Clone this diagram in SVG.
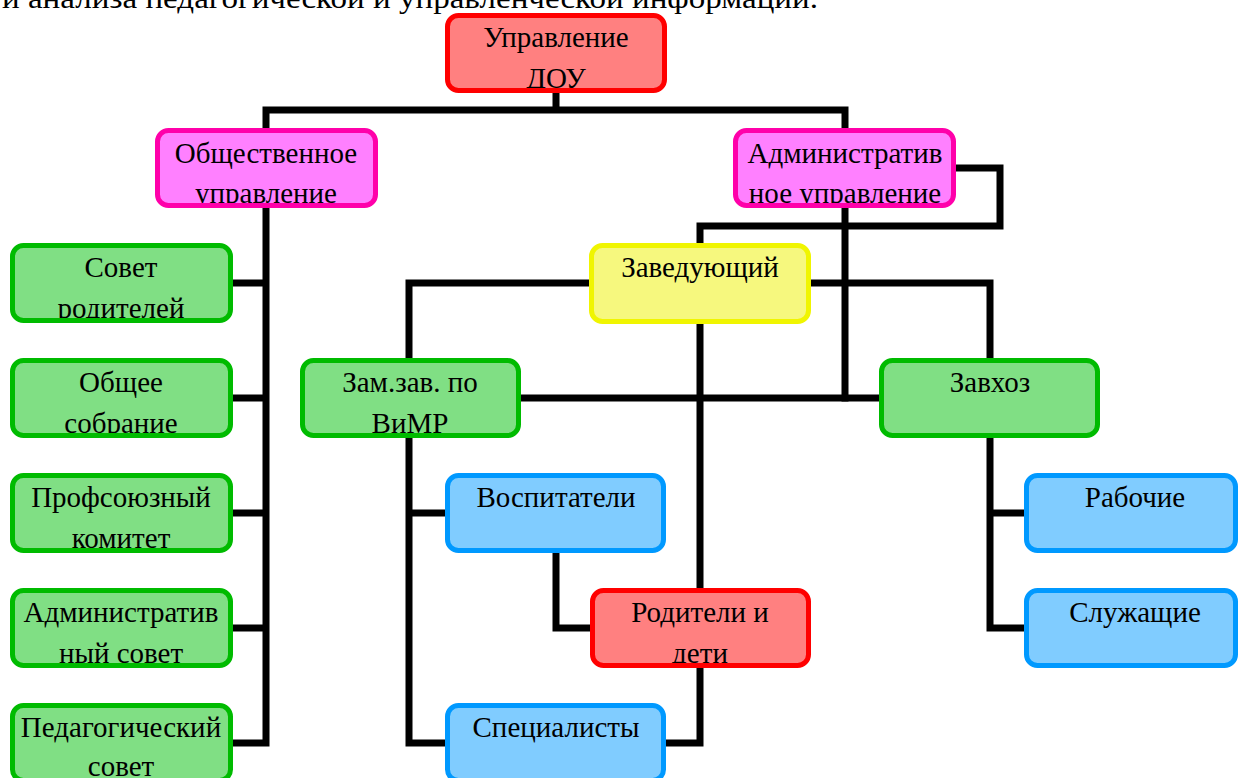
<svg xmlns="http://www.w3.org/2000/svg" width="1238" height="778" viewBox="0 0 1238 778">
<style>
  .t { font-family: "Liberation Serif", "Times New Roman", serif; font-size: 29px; fill: #000; text-anchor: middle; }
  .top { font-family: "Liberation Serif", "Times New Roman", serif; font-size: 30px; fill: #000; }
  .box { stroke-width: 5; }
  .red { fill: #ff8080; stroke: #ff0000; }
  .mag { fill: #ff80ff; stroke: #ff00aa; }
  .yel { fill: #f6f87e; stroke: #f0f500; }
  .grn { fill: #80df84; stroke: #00bb00; }
  .blu { fill: #80ccff; stroke: #0099ff; }
  .con { fill: none; stroke: #000; stroke-width: 7; stroke-linejoin: miter; stroke-linecap: square; }
</style>
<defs>
  <clipPath id="c1"><rect x="450" y="18" width="212" height="70"/></clipPath>
  <clipPath id="c2"><rect x="160" y="133" width="213" height="70"/></clipPath>
  <clipPath id="c3"><rect x="738" y="133" width="213" height="70"/></clipPath>
  <clipPath id="c5"><rect x="15" y="248" width="213" height="70"/></clipPath>
  <clipPath id="c6"><rect x="15" y="363" width="213" height="70"/></clipPath>
  <clipPath id="c7"><rect x="15" y="478" width="213" height="70"/></clipPath>
  <clipPath id="c8"><rect x="15" y="593" width="213" height="70"/></clipPath>
  <clipPath id="c9"><rect x="15" y="708" width="213" height="70"/></clipPath>
  <clipPath id="c10"><rect x="305" y="363" width="211" height="70"/></clipPath>
  <clipPath id="c13"><rect x="595" y="593" width="211" height="70"/></clipPath>
</defs>
<rect width="1238" height="778" fill="#fff"/>
<text class="top" x="2" y="8" textLength="816" lengthAdjust="spacingAndGlyphs">и анализа педагогической и управленческой информации.</text>

<g id="connectors">
  <path class="con" d="M556,93 V110 M266,128 V110 H845 V127"/>
  <path class="con" d="M266,208 V743 M233,283 H266 M233,398 H266 M233,513 H266 M233,628 H266 M233,743 H266"/>
  <path class="con" d="M957,168 H1000 V226 H700 V243 M845,209 V398"/>
  <path class="con" d="M521,398 H879"/>
  <path class="con" d="M589,283 H409 V358 M811,283 H990 V358 M700,324 V588"/>
  <path class="con" d="M700,668 V743 H666"/>
  <path class="con" d="M409,438 V743 H445 M409,513 H445"/>
  <path class="con" d="M556,553 V628 H590"/>
  <path class="con" d="M990,438 V628 H1024 M990,513 H1024"/>
</g>

<g id="n-upravlenie-dou">
  <rect class="box red" x="447.5" y="15.5" width="217" height="75" rx="11"/>
  <text class="t" x="556" y="47" clip-path="url(#c1)"><tspan x="556">Управление</tspan><tspan x="556" y="88">ДОУ</tspan></text>
</g>
<g id="n-obshchestvennoe">
  <rect class="box mag" x="157.5" y="130.5" width="218" height="75" rx="11"/>
  <text class="t" x="266" y="163" clip-path="url(#c2)"><tspan x="266">Общественное</tspan><tspan x="266" y="203">управление</tspan></text>
</g>
<g id="n-administrativnoe">
  <rect class="box mag" x="735.5" y="130.5" width="218" height="75" rx="11"/>
  <text class="t" x="845" y="163" clip-path="url(#c3)"><tspan x="845">Административ</tspan><tspan x="845" y="203">ное управление</tspan></text>
</g>
<g id="n-zaveduyushchiy">
  <rect class="box yel" x="591.5" y="245.5" width="217" height="76" rx="11"/>
  <text class="t" x="700" y="277">Заведующий</text>
</g>
<g id="n-sovet-roditeley">
  <rect class="box grn" x="12.5" y="245.5" width="218" height="75" rx="11"/>
  <text class="t" x="121" y="277" clip-path="url(#c5)"><tspan x="121">Совет</tspan><tspan x="121" y="318">родителей</tspan></text>
</g>
<g id="n-obshchee-sobranie">
  <rect class="box grn" x="12.5" y="360.5" width="218" height="75" rx="11"/>
  <text class="t" x="121" y="392" clip-path="url(#c6)"><tspan x="121">Общее</tspan><tspan x="121" y="433">собрание</tspan></text>
</g>
<g id="n-profsoyuzny">
  <rect class="box grn" x="12.5" y="475.5" width="218" height="75" rx="11"/>
  <text class="t" x="121" y="507" clip-path="url(#c7)"><tspan x="121">Профсоюзный</tspan><tspan x="121" y="548">комитет</tspan></text>
</g>
<g id="n-admin-sovet">
  <rect class="box grn" x="12.5" y="590.5" width="218" height="75" rx="11"/>
  <text class="t" x="121" y="622" clip-path="url(#c8)"><tspan x="121">Административ</tspan><tspan x="121" y="663">ный совет</tspan></text>
</g>
<g id="n-ped-sovet">
  <rect class="box grn" x="12.5" y="705.5" width="218" height="75" rx="11"/>
  <text class="t" x="121" y="737" clip-path="url(#c9)"><tspan x="121">Педагогический</tspan><tspan x="121" y="776">совет</tspan></text>
</g>
<g id="n-zamzav">
  <rect class="box grn" x="302.5" y="360.5" width="216" height="75" rx="11"/>
  <text class="t" x="410" y="392" clip-path="url(#c10)"><tspan x="410">Зам.зав. по</tspan><tspan x="410" y="433">ВиМР</tspan></text>
</g>
<g id="n-zavkhoz">
  <rect class="box grn" x="881.5" y="360.5" width="216" height="75" rx="11"/>
  <text class="t" x="990" y="392">Завхоз</text>
</g>
<g id="n-vospitateli">
  <rect class="box blu" x="447.5" y="475.5" width="216" height="75" rx="11"/>
  <text class="t" x="556" y="507">Воспитатели</text>
</g>
<g id="n-roditeli-deti">
  <rect class="box red" x="592.5" y="590.5" width="216" height="75" rx="11"/>
  <text class="t" x="700" y="622" clip-path="url(#c13)"><tspan x="700">Родители и</tspan><tspan x="700" y="663">дети</tspan></text>
</g>
<g id="n-spetsialisty">
  <rect class="box blu" x="447.5" y="705.5" width="216" height="75" rx="11"/>
  <text class="t" x="556" y="737">Специалисты</text>
</g>
<g id="n-rabochie">
  <rect class="box blu" x="1026.5" y="475.5" width="209" height="75" rx="11"/>
  <text class="t" x="1135" y="507">Рабочие</text>
</g>
<g id="n-sluzhashchie">
  <rect class="box blu" x="1026.5" y="590.5" width="209" height="75" rx="11"/>
  <text class="t" x="1135" y="622">Служащие</text>
</g>
</svg>
